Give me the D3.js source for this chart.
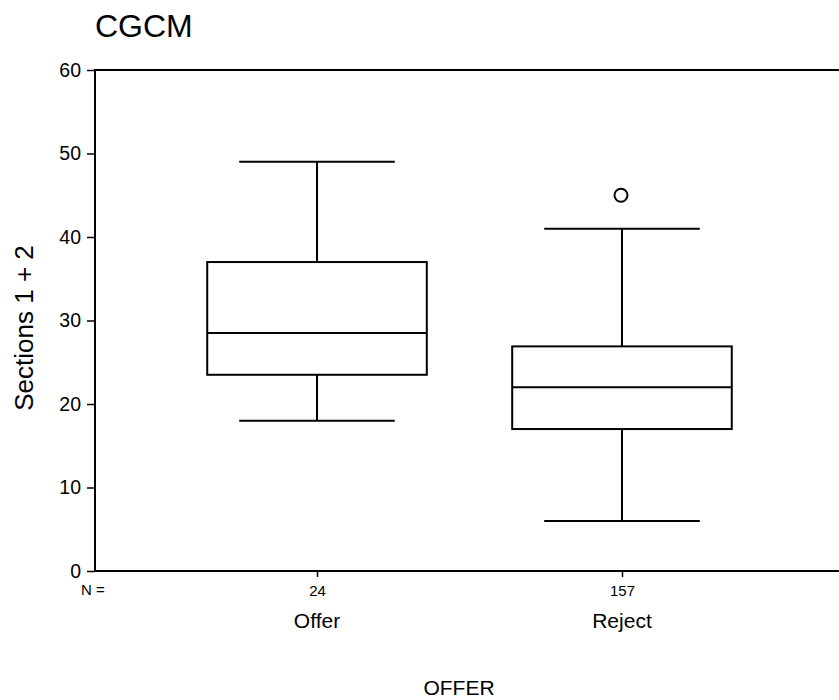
<!DOCTYPE html>
<html>
<head>
<meta charset="utf-8">
<script src="https://cdn.jsdelivr.net/npm/d3@7"></script>
<style>
  body { margin: 0; background: #fff; }
  text { font-family: "Liberation Sans", Arial, sans-serif; fill: #000; }
</style>
</head>
<body>
<div id="chart"></div>
<script>
// box plot values
const categories = ["Offer", "Reject"];
const counts = [24, 157];
const lowWhisker = [18, 6];
const q1 = [23.5, 17];
const median = [28.5, 22];
const q3 = [37, 26.9];
const highWhisker = [49, 41];
const outliers = [[], [45]];
const yTicks = [0, 10, 20, 30, 40, 50, 60];

const boxes = categories.map((c, i) => ({
  cat: c, n: counts[i], lo: lowWhisker[i], q1: q1[i], med: median[i],
  q3: q3[i], hi: highWhisker[i], out: outliers[i]
}));

// set the dimensions and margins of the graph
var margin = { top: 70, right: 0, bottom: 129, left: 95 },
    width = 749,
    height = 501;

var svg = d3.select("#chart")
    .append("svg")
    .attr("width", 839)
    .attr("height", 700)
    .append("g")
    .attr("transform", "translate(" + margin.left + "," + margin.top + ")");

const x = d3.scalePoint()
    .domain(categories)
    .range([0, width])
    .padding(0.728);

const y = d3.scaleLinear()
    .domain([0, 60])
    .range([height, 0]);

const step = x.step();
const boxW = step * 0.72;
const capW = step * 0.51;

// title
svg.append("text")
    .attr("x", 0)
    .attr("y", 37 - margin.top)
    .style("font-size", "32px")
    .text("CGCM");

// frame: top and bottom lines, left axis line
svg.append("rect")
    .attr("x", 0).attr("y", 0)
    .attr("width", width).attr("height", height)
    .attr("fill", "none")
    .attr("stroke", "#000")
    .attr("stroke-width", 2);

// y axis
const yAxis = svg.append("g")
    .call(d3.axisLeft(y).tickValues(yTicks).tickSize(8).tickPadding(6));
yAxis.select(".domain").remove();
yAxis.selectAll("line").attr("stroke-width", 1.5);
yAxis.selectAll("text").style("font-size", "19.5px").attr("fill", "#000");

// x axis with N counts
const xAxis = svg.append("g")
    .attr("transform", "translate(0," + height + ")")
    .call(d3.axisBottom(x).tickSize(6).tickPadding(8)
        .tickFormat((d, i) => counts[i]));
xAxis.select(".domain").remove();
xAxis.selectAll("line").attr("stroke-width", 1.5);
xAxis.selectAll("text").style("font-size", "15px").attr("fill", "#000");

svg.append("text")
    .attr("x", -14)
    .attr("y", height + 24)
    .style("font-size", "15px")
    .text("N =");

// category labels
svg.append("g")
    .selectAll("text")
    .data(categories)
    .enter().append("text")
    .attr("x", d => x(d))
    .attr("y", height + 57)
    .attr("text-anchor", "middle")
    .style("font-size", "21px")
    .text(d => d);

// axis titles
svg.append("text")
    .attr("x", 459 - margin.left)
    .attr("y", 695 - margin.top)
    .attr("text-anchor", "middle")
    .style("font-size", "21px")
    .text("OFFER");

svg.append("text")
    .attr("transform", "translate(" + (33 - margin.left) + "," + (328 - margin.top) + ") rotate(-90)")
    .attr("text-anchor", "middle")
    .style("font-size", "26px")
    .text("Sections 1 + 2");

// boxes
const g = svg.append("g")
    .selectAll("g")
    .data(boxes)
    .enter().append("g")
    .attr("stroke", "#000")
    .attr("stroke-width", 2)
    .attr("fill", "none");

// whiskers
g.append("line")
    .attr("x1", d => x(d.cat)).attr("x2", d => x(d.cat))
    .attr("y1", d => y(d.hi)).attr("y2", d => y(d.q3));
g.append("line")
    .attr("x1", d => x(d.cat)).attr("x2", d => x(d.cat))
    .attr("y1", d => y(d.q1)).attr("y2", d => y(d.lo));
g.append("line")
    .attr("x1", d => x(d.cat) - capW / 2).attr("x2", d => x(d.cat) + capW / 2)
    .attr("y1", d => y(d.hi)).attr("y2", d => y(d.hi));
g.append("line")
    .attr("x1", d => x(d.cat) - capW / 2).attr("x2", d => x(d.cat) + capW / 2)
    .attr("y1", d => y(d.lo)).attr("y2", d => y(d.lo));

// box and median
g.append("rect")
    .attr("x", d => x(d.cat) - boxW / 2)
    .attr("y", d => y(d.q3))
    .attr("width", boxW)
    .attr("height", d => y(d.q1) - y(d.q3))
    .attr("fill", "#fff");
g.append("line")
    .attr("x1", d => x(d.cat) - boxW / 2).attr("x2", d => x(d.cat) + boxW / 2)
    .attr("y1", d => y(d.med)).attr("y2", d => y(d.med));

// outliers
g.selectAll("circle")
    .data(d => d.out.map(v => ({ cat: d.cat, v: v })))
    .enter().append("circle")
    .attr("cx", d => x(d.cat) - 1)
    .attr("cy", d => y(d.v))
    .attr("r", 6.5)
    .attr("stroke-width", 2);
</script>
</body>
</html>
